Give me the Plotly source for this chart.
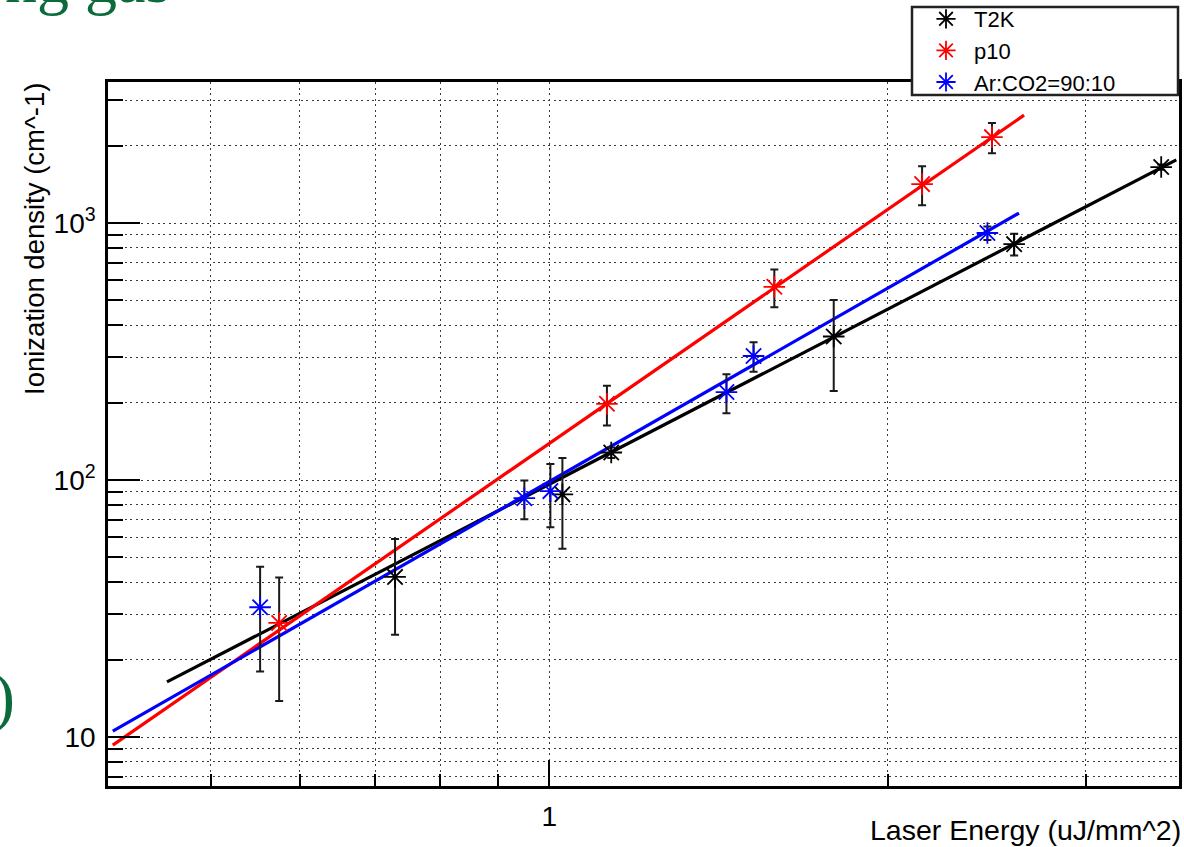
import math
import plotly.graph_objects as go

# ---- measured points: laser energy (uJ/mm^2) vs ionization density (cm^-1) ----
t2k_x = [0.729, 1.027, 1.135, 1.79, 2.59, 3.50]
t2k_y = [42, 88, 128, 362, 828, 1652]
t2k_err = [17, 34, 6, 140, 80, 40]

p10_x = [0.575, 1.125, 1.585, 2.145, 2.475]
p10_y = [27.8, 198, 565, 1418, 2160]
p10_err = [14, 35, 95, 245, 290]

arco2_x = [0.553, 0.950, 1.002, 1.437, 1.519, 2.452]
arco2_y = [32, 85, 90.6, 220, 304, 915]
arco2_err = [14, 14.6, 25, 38, 40, 55]

# ---- power-law fits y = A * x^b, drawn over [x_lo, x_hi] ----
fit_A = {"T2K": 96.4, "p10": 139.0, "Ar:CO2=90:10": 98.7}
fit_b = {"T2K": 2.263, "p10": 3.025, "Ar:CO2=90:10": 2.501}
fit_range = {"T2K": (0.457, 3.61), "p10": (0.409, 2.643), "Ar:CO2=90:10": (0.409, 2.616)}

series = [
    ("T2K", t2k_x, t2k_y, t2k_err, "#000000"),
    ("p10", p10_x, p10_y, p10_err, "#ff0000"),
    ("Ar:CO2=90:10", arco2_x, arco2_y, arco2_err, "#0000ff"),
]

# axis ranges and tick positions
x_range = (0.405, 3.63)
y_range = (6.45, 3540)
x_major = [1]
x_minor = [0.5, 0.6, 0.7, 0.8, 0.9, 2, 3]
y_major = [10, 100, 1000]
y_major_text = ["10", "10<sup>2</sup>", "10<sup>3</sup>"]
y_minor = [7, 8, 9, 20, 30, 40, 50, 60, 70, 80, 90,
           200, 300, 400, 500, 600, 700, 800, 900, 2000, 3000]

FONT = "Liberation Sans, Arial, Helvetica, sans-serif"
GRID = "#3a3a3a"
DOTS = "2px,3.5px"

fig = go.Figure()

# fit lines first so the markers sit on top
for name, xs, ys, errs, color in series:
    lo, hi = fit_range[name]
    fx = [lo, hi]
    fy = [fit_A[name] * v ** fit_b[name] for v in fx]
    fig.add_trace(go.Scatter(
        x=fx, y=fy, mode="lines",
        line=dict(color=color, width=3.2),
        showlegend=False, hoverinfo="skip",
    ))

for name, xs, ys, errs, color in series:
    fig.add_trace(go.Scatter(
        x=xs, y=ys, mode="markers", name=name,
        marker=dict(symbol="asterisk-open", size=18, color=color,
                    line=dict(color=color, width=1.8)),
        error_y=dict(type="data", array=errs, visible=True,
                     color="#1a1a1a", thickness=2, width=4),
    ))

axis_common = dict(
    type="log",
    showline=True, linecolor="#000000", linewidth=2.5, mirror=True,
    ticks="inside", tickcolor="#000000", tickwidth=2,
    showgrid=True, gridcolor=GRID, gridwidth=1.3, griddash=DOTS,
    zeroline=False,
    tickfont=dict(family=FONT, size=28, color="#000000"),
)

fig.update_xaxes(
    **axis_common,
    range=[math.log10(x_range[0]), math.log10(x_range[1])],
    tickmode="array", tickvals=x_major, ticktext=["1"], ticklen=26,
    ticklabelstandoff=4,
    minor=dict(tickmode="array", tickvals=x_minor, ticks="inside", ticklen=12,
               tickwidth=2, tickcolor="#000000",
               showgrid=True, gridcolor=GRID, gridwidth=1.3, griddash=DOTS),
)
fig.update_yaxes(
    **axis_common,
    range=[math.log10(y_range[0]), math.log10(y_range[1])],
    tickmode="array", tickvals=y_major, ticktext=y_major_text, ticklen=32,
    ticklabelstandoff=4,
    minor=dict(tickmode="array", tickvals=y_minor, ticks="inside", ticklen=15,
               tickwidth=2, tickcolor="#000000",
               showgrid=True, gridcolor=GRID, gridwidth=1.3, griddash=DOTS),
)

# legend frame
fig.add_shape(type="rect", xref="paper", yref="paper",
              x0=(912 - 108) / 1071, x1=(1178 - 108) / 1071,
              y0=1 + (82 - 95) / 704, y1=1 + (82 - 7) / 704,
              line=dict(color="#222222", width=2.5), fillcolor="#ffffff",
              layer="above")

fig.update_layout(
    width=1184, height=847,
    margin=dict(l=108, r=5, t=82, b=61, autoexpand=False),
    paper_bgcolor="#ffffff", plot_bgcolor="#ffffff",
    font=dict(family=FONT, color="#000000"),
    showlegend=True,
    legend=dict(
        x=(918 - 108) / 1071, y=1 + (82 + 2) / 704,
        xanchor="left", yanchor="top",
        bgcolor="rgba(0,0,0,0)", borderwidth=0,
        font=dict(family=FONT, size=22, color="#000000"),
        itemwidth=46, tracegroupgap=0,
    ),
    annotations=[
        dict(text="Ionization density (cm^-1)", textangle=-90,
             xref="paper", yref="paper", x=(35 - 108) / 1071, y=1 + 1 / 704,
             xanchor="center", yanchor="top", showarrow=False,
             font=dict(family=FONT, size=27.5, color="#000000")),
        dict(text="Laser Energy (uJ/mm^2)",
             xref="paper", yref="paper", x=1, y=-(830 - 786) / 704,
             xanchor="right", yanchor="middle", xshift=4, showarrow=False,
             font=dict(family=FONT, size=28.5, color="#000000")),
        # slide title and bracket clipped by the page edges
        dict(text="ng gas", xref="paper", yref="paper",
             x=(172 - 108) / 1071, y=1 + (82 - 18) / 704,
             xanchor="right", yanchor="bottom", showarrow=False,
             font=dict(family="Liberation Serif, Times New Roman, serif",
                       size=64, color="#0b6b3b")),
        dict(text=")", xref="paper", yref="paper",
             x=(17 - 108) / 1071, y=(786 - 697) / 704,
             xanchor="right", yanchor="middle", showarrow=False,
             font=dict(family="Liberation Serif, Times New Roman, serif",
                       size=66, color="#0b6b3b")),
    ],
)

fig.write_html("out.html")
